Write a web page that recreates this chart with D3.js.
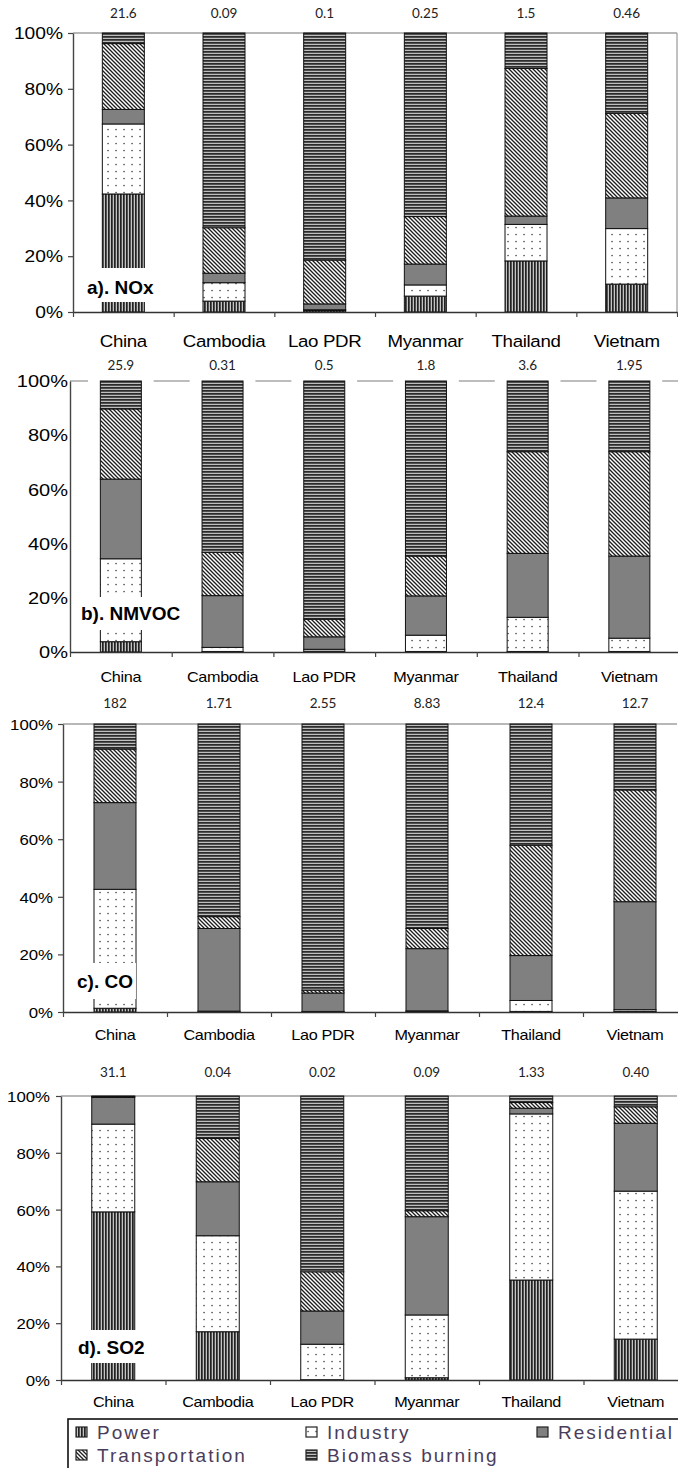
<!DOCTYPE html>
<html>
<head>
<meta charset="utf-8">
<script src="https://cdn.jsdelivr.net/npm/d3@7/dist/d3.min.js"></script>
<style>
  html, body { margin: 0; padding: 0; background: #fff; }
  svg { display: block; }
</style>
</head>
<body>
<script>
// Countries and emission sectors
const countries = ["China", "Cambodia", "Lao PDR", "Myanmar", "Thailand", "Vietnam"];
const sectors = ["Power", "Industry", "Residential", "Transportation", "Biomass burning"];

// Total emissions printed above each bar
const noxTotals   = ["21.6", "0.09", "0.1", "0.25", "1.5", "0.46"];
const nmvocTotals = ["25.9", "0.31", "0.5", "1.8", "3.6", "1.95"];
const coTotals    = ["182", "1.71", "2.55", "8.83", "12.4", "12.7"];
const so2Totals   = ["31.1", "0.04", "0.02", "0.09", "1.33", "0.40"];

// Sector shares (%) per country, in country order
const noxPower     = [42.3, 3.9, 0.5, 5.7, 18.3, 10.0];
const noxIndustry  = [25.1, 6.6, 0.3, 4.0, 13.1, 19.9];
const noxResid     = [5.2, 3.4, 2.1, 7.5, 3.0, 11.0];
const noxTransport = [23.6, 16.3, 15.7, 17.0, 52.9, 30.3];
const noxBiomass   = [3.8, 69.8, 81.4, 65.8, 12.7, 28.8];

const nmvocPower     = [3.8, 0.2, 0.3, 0.2, 0.2, 0.2];
const nmvocIndustry  = [30.6, 1.5, 0.7, 6.0, 12.6, 4.9];
const nmvocResid     = [29.4, 19.1, 4.6, 14.5, 23.6, 30.3];
const nmvocTransport = [25.9, 16.0, 6.5, 14.7, 37.5, 38.5];
const nmvocBiomass   = [10.3, 63.2, 87.9, 64.6, 26.1, 26.1];

const coPower     = [1.3, 0.1, 0.1, 0.1, 0.2, 0.2];
const coIndustry  = [41.3, 0.2, 0.1, 0.3, 3.8, 0.6];
const coResid     = [30.1, 28.7, 6.4, 21.6, 15.6, 37.5];
const coTransport = [18.6, 4.1, 1.0, 7.0, 38.3, 38.8];
const coBiomass   = [8.7, 66.9, 92.4, 71.0, 42.1, 22.9];

const so2Power     = [59.2, 17.0, 0.1, 0.8, 35.2, 14.4];
const so2Industry  = [30.9, 33.8, 12.5, 22.1, 58.5, 52.1];
const so2Resid     = [9.4, 19.0, 11.7, 34.6, 2.0, 23.9];
const so2Transport = [0.3, 15.3, 13.8, 2.1, 2.0, 5.8];
const so2Biomass   = [0.2, 14.9, 61.9, 40.4, 2.3, 3.8];

const yTicks = [0, 0.2, 0.4, 0.6, 0.8, 1];

const W = 678, H = 1468;
const svg = d3.select("body").append("svg").attr("width", W).attr("height", H);
const defs = svg.append("defs");

function pattern(id, w, h, build) {
  const p = defs.append("pattern").attr("id", id)
    .attr("patternUnits", "userSpaceOnUse").attr("width", w).attr("height", h);
  build(p);
}
// Power: vertical stripes
pattern("pPower", 3, 3, p => {
  p.append("rect").attr("width", 3).attr("height", 3).attr("fill", "#c4c4c4");
  p.append("rect").attr("width", 1.7).attr("height", 3).attr("fill", "#222");
});
// Industry: sparse dots on white
pattern("pIndustry", 8, 7, p => {
  p.append("rect").attr("width", 8).attr("height", 7).attr("fill", "#fff");
  p.append("rect").attr("x", 3.4).attr("y", 2.9).attr("width", 1.3).attr("height", 1.3).attr("fill", "#333");
});
// Transportation: diagonal hatching
pattern("pTransport", 4, 4, p => {
  p.append("rect").attr("width", 4).attr("height", 4).attr("fill", "#fff");
  p.append("path").attr("d", "M-1,-1L5,5M-1,3L1,5M3,-1L5,1")
    .attr("stroke", "#1e1e1e").attr("stroke-width", 1.35);
});
// Biomass burning: horizontal stripes
pattern("pBiomass", 3, 3, p => {
  p.append("rect").attr("width", 3).attr("height", 3).attr("fill", "#bebebe");
  p.append("rect").attr("width", 3).attr("height", 1.75).attr("fill", "#2c2c2c");
});

const fills = {
  "Power": "url(#pPower)",
  "Industry": "url(#pIndustry)",
  "Residential": "#808080",
  "Transportation": "url(#pTransport)",
  "Biomass burning": "url(#pBiomass)"
};

function rowsOf(power, industry, resid, transport, biomass) {
  return countries.map((c, i) => ({
    country: c,
    "Power": power[i], "Industry": industry[i], "Residential": resid[i],
    "Transportation": transport[i], "Biomass burning": biomass[i]
  }));
}

const panels = [
  { rows: rowsOf(noxPower, noxIndustry, noxResid, noxTransport, noxBiomass), totals: noxTotals,
    left: 73, step: 100.67, top: 33, bottom: 312, barW: 42, numY: 13, catY: 341,
    tickFont: 16, tickSx: 1.2, tickSize: 5, tickGap: 10, catFont: 17, catSx: 1.1,
    label: "a). NOx", lx: 87, ly: 287, by0: 268, by1: 302, border: "box" },
  { rows: rowsOf(nmvocPower, nmvocIndustry, nmvocResid, nmvocTransport, nmvocBiomass), totals: nmvocTotals,
    left: 70, step: 101.7, top: 381, bottom: 652, barW: 41, numY: 365, catY: 677,
    tickFont: 16, tickSx: 1.25, tickSize: 0, tickGap: 2, catFont: 15, catSx: 1.08,
    label: "b). NMVOC", lx: 81, ly: 613, by0: 597, by1: 630, border: "dashed" },
  { rows: rowsOf(coPower, coIndustry, coResid, coTransport, coBiomass), totals: coTotals,
    left: 63, step: 104, top: 724, bottom: 1012, barW: 42, numY: 703, catY: 1035,
    tickFont: 15, tickSx: 1.12, tickSize: 5, tickGap: 10, catFont: 15, catSx: 1.08,
    label: "c). CO", lx: 77, ly: 981, by0: 963, by1: 999, border: "top" },
  { rows: rowsOf(so2Power, so2Industry, so2Resid, so2Transport, so2Biomass), totals: so2Totals,
    left: 61, step: 104.5, top: 1096, bottom: 1380, barW: 43, numY: 1072, catY: 1402,
    tickFont: 15, tickSx: 1.12, tickSize: 5, tickGap: 11, catFont: 15, catSx: 1.08,
    label: "d). SO2", lx: 78, ly: 1347, by0: 1330, by1: 1363, border: "top" }
];

const stack = d3.stack().keys(sectors).offset(d3.stackOffsetExpand);

panels.forEach(cfg => {
  const g = svg.append("g");
  const right = cfg.left + cfg.step * countries.length;
  const pad = 1 - cfg.barW / cfg.step;
  const x = d3.scaleBand().domain(countries).range([cfg.left, right])
    .paddingInner(pad).paddingOuter(pad / 2);
  const y = d3.scaleLinear().domain([0, 1]).range([cfg.bottom, cfg.top]);

  // plot-area frame
  if (cfg.border === "dashed") {
    g.append("line").attr("x1", cfg.left).attr("x2", W).attr("y1", y(1)).attr("y2", y(1))
      .attr("stroke", "#a8a8a8").attr("stroke-width", 1.6)
      .attr("stroke-dasharray", `36 ${cfg.step - 36}`).attr("stroke-dashoffset", 18);
  } else {
    g.append("line").attr("x1", cfg.left).attr("x2", Math.min(right, 677)).attr("y1", y(1)).attr("y2", y(1))
      .attr("stroke", "#a0a0a0").attr("stroke-width", 1.3);
    if (cfg.border === "box") {
      g.append("line").attr("x1", 677).attr("x2", 677).attr("y1", y(1)).attr("y2", y(0))
        .attr("stroke", "#a0a0a0").attr("stroke-width", 1.3);
    }
  }

  // stacked bars
  const series = stack(cfg.rows);
  g.selectAll("g.layer").data(series).join("g").attr("class", "layer")
    .attr("fill", d => fills[d.key])
    .selectAll("rect").data(d => d).join("rect")
    .attr("x", d => x(d.data.country))
    .attr("width", x.bandwidth())
    .attr("y", d => y(d[1]))
    .attr("height", d => y(d[0]) - y(d[1]))
    .attr("stroke", "#111").attr("stroke-width", 1);

  // totals above bars
  g.selectAll("text.total").data(countries).join("text").attr("class", "total")
    .attr("x", c => x(c) + x.bandwidth() / 2).attr("y", cfg.numY).attr("dy", "0.35em")
    .attr("text-anchor", "middle")
    .style("font-family", "Lato, 'Open Sans', sans-serif").style("font-size", "13.5px")
    .attr("fill", "#222")
    .text((c, i) => cfg.totals[i]);

  // left axis
  const yAxis = d3.axisLeft(y).tickValues(yTicks).tickFormat(d3.format(".0%"))
    .tickSize(cfg.tickSize).tickSizeOuter(0);
  const ya = g.append("g").attr("transform", `translate(${cfg.left},0)`).call(yAxis);
  ya.select(".domain").attr("stroke", "#444").attr("stroke-width", 1.4);
  ya.selectAll(".tick line").attr("stroke", "#444").attr("stroke-width", 1.2);
  ya.selectAll(".tick text").attr("x", null).attr("dy", "0.36em")
    .attr("transform", `translate(${-cfg.tickGap},0) scale(${cfg.tickSx},1)`)
    .style("font-family", "'Liberation Sans', Arial, sans-serif")
    .style("font-size", cfg.tickFont + "px").attr("fill", "#000");

  // bottom axis with ticks at category boundaries
  const xb = d3.scaleLinear().domain([0, countries.length]).range([cfg.left, right]);
  const xAxis = d3.axisBottom(xb).tickValues(d3.range(0, countries.length + 1))
    .tickFormat("").tickSize(5).tickSizeOuter(0);
  const xa = g.append("g").attr("transform", `translate(0,${cfg.bottom})`).call(xAxis);
  xa.select(".domain").attr("stroke", "#333").attr("stroke-width", 1.4);
  xa.selectAll(".tick line").attr("stroke", "#444").attr("stroke-width", 1.2);

  // category labels
  g.selectAll("text.cat").data(countries).join("text").attr("class", "cat")
    .attr("transform", c => `translate(${x(c) + x.bandwidth() / 2},${cfg.catY}) scale(${cfg.catSx},1)`)
    .attr("dy", "0.35em").attr("text-anchor", "middle")
    .style("font-family", "'Liberation Sans', Arial, sans-serif")
    .style("font-size", cfg.catFont + "px").style("letter-spacing", "-0.3px")
    .attr("fill", "#000")
    .text(c => c);

  // panel tag on a white patch
  const tag = g.append("g");
  const t = tag.append("text").attr("x", cfg.lx).attr("y", cfg.ly).attr("dy", "0.35em")
    .style("font-family", "'Liberation Sans', Arial, sans-serif")
    .style("font-size", "19px").style("font-weight", "bold").attr("fill", "#000")
    .text(cfg.label);
  const bb = t.node().getBBox();
  tag.insert("rect", "text").attr("x", bb.x - 3).attr("width", bb.width + 6)
    .attr("y", cfg.by0).attr("height", cfg.by1 - cfg.by0).attr("fill", "#fff");
});

// legend
const legend = svg.append("g");
legend.append("rect").attr("x", 68).attr("y", 1419).attr("width", 640).attr("height", 70)
  .attr("fill", "#fff").attr("stroke", "#111").attr("stroke-width", 1.6);
const legendPos = [
  { x: 76, y: 1432 }, { x: 306, y: 1432 }, { x: 537, y: 1432 },
  { x: 76, y: 1455 }, { x: 306, y: 1455 }
];
sectors.forEach((s, i) => {
  const p = legendPos[i];
  legend.append("rect").attr("x", p.x).attr("y", p.y - 5).attr("width", 11).attr("height", 10)
    .attr("fill", fills[s]).attr("stroke", "#222").attr("stroke-width", 1.2);
  legend.append("text").attr("x", p.x + 21).attr("y", p.y).attr("dy", "0.36em")
    .style("font-family", "'Liberation Sans', Arial, sans-serif")
    .style("font-size", "19px").style("letter-spacing", "2px")
    .attr("fill", "#4a3d5c")
    .text(s);
});
</script>
</body>
</html>
